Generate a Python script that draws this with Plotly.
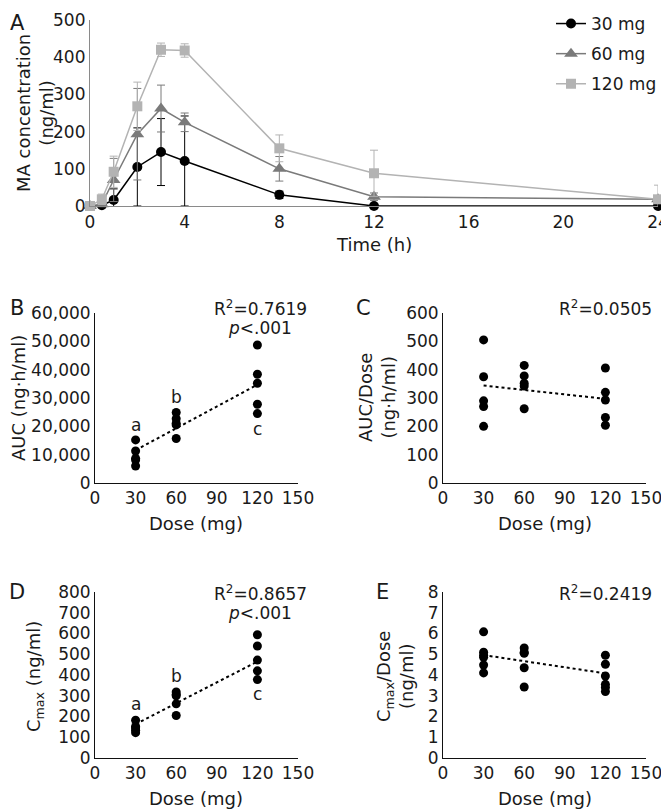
import plotly.graph_objects as go

# ---------------- Data ----------------
time_h = [0, 0.5, 1, 2, 3, 4, 8, 12, 24]
conc_30 = [0, 2, 16, 105, 145, 121, 30, 0, 0]
err_30 = [0, 2, 30, 105, 90, 121, 10, 0, 0]
conc_60 = [0, 5, 70, 193, 262, 225, 100, 25, 18]
err_60 = [0, 15, 58, 123, 63, 25, 33, 10, 5]
conc_120 = [0, 18, 92, 268, 420, 418, 155, 88, 18]
err_120 = [0, 14, 42, 65, 18, 18, 36, 62, 38]

dose_levels = [30, 60, 120]
auc = {30: [15200, 11300, 8700, 8100, 6000],
       60: [24900, 22700, 21100, 20500, 15700],
       120: [48700, 38400, 35200, 27800, 24500]}
auc_dose = {30: [505, 375, 290, 270, 200],
            60: [415, 378, 352, 342, 262],
            120: [406, 320, 293, 231, 204]}
cmax = {30: [182, 152, 146, 134, 122],
        60: [318, 306, 300, 261, 205],
        120: [594, 540, 472, 420, 378]}
cmax_dose = {30: [6.08, 5.1, 4.95, 4.85, 4.48, 4.1],
             60: [5.3, 5.1, 5.05, 4.35, 3.42],
             120: [4.95, 4.52, 3.95, 3.55, 3.4, 3.2]}

trend_x = [30, 120]
trend_auc = [11600, 34700]
trend_auc_dose = [344, 297]
trend_cmax = [163, 465]
trend_cmax_dose = [4.96, 4.08]

r2_labels = ["R<sup>2</sup>=0.7619", "R<sup>2</sup>=0.0505", "R<sup>2</sup>=0.8657", "R<sup>2</sup>=0.2419"]
sig_letters = ["a", "b", "c"]

# ---------------- Figure ----------------
W, H = 669, 811
OFF = 8  # page body offset
ML, MR, MT, MB = 40, 8, 8, 16
PW, PH = W - ML - MR, H - MT - MB
FONT = "DejaVu Sans"
TXT = "#1a1a1a"


def px(x):
    return (x - OFF - ML) / PW


def py(y):
    return 1 - (y - OFF - MT) / PH


fig = go.Figure()

series = [
    ("30 mg", conc_30, err_30, "#000000", "circle", 10),
    ("60 mg", conc_60, err_60, "#7a7a7a", "triangle-up", 12),
    ("120 mg", conc_120, err_120, "#b3b3b3", "square", 10),
]
for name, y, e, col, sym, sz in series:
    fig.add_trace(go.Scatter(
        x=time_h, y=y, name=name, mode="lines+markers", legendgroup=name,
        line=dict(color=col, width=1.5),
        marker=dict(color=col, symbol=sym, size=sz),
        error_y=dict(type="data", array=e, visible=True, color=col, thickness=1, width=4),
        cliponaxis=False, xaxis="x", yaxis="y",
    ))


def scatter_panel(data, trend, ax):
    xs, ys = [], []
    for d in dose_levels:
        xs += [d] * len(data[d])
        ys += data[d]
    fig.add_trace(go.Scatter(
        x=trend_x, y=trend, mode="lines", showlegend=False,
        line=dict(color="#000000", width=2, dash="dot"),
        xaxis="x" + ax, yaxis="y" + ax, hoverinfo="skip"))
    fig.add_trace(go.Scatter(
        x=xs, y=ys, mode="markers", showlegend=False,
        marker=dict(color="#000000", size=9),
        cliponaxis=False, xaxis="x" + ax, yaxis="y" + ax))


scatter_panel(auc, trend_auc, "2")
scatter_panel(auc_dose, trend_auc_dose, "3")
scatter_panel(cmax, trend_cmax, "4")
scatter_panel(cmax_dose, trend_cmax_dose, "5")

tickfont = dict(family=FONT, size=17, color=TXT)


def xax(dom, rng, dtick, anchor, lc, lw):
    return dict(domain=dom, range=rng, dtick=dtick, tick0=0, anchor=anchor,
                showline=True, linecolor=lc, linewidth=lw, showgrid=False,
                zeroline=False, ticks="", tickfont=tickfont, fixedrange=True,
                automargin=False)


def yax(dom, rng, dtick, anchor, lc, lw, fmt=None):
    d = dict(domain=dom, range=rng, dtick=dtick, tick0=0, anchor=anchor,
             showline=True, linecolor=lc, linewidth=lw, showgrid=False,
             zeroline=False, ticks="", tickfont=tickfont, fixedrange=True,
             automargin=False)
    if fmt:
        d["tickformat"] = fmt
    return d


A_LC = "#8a8a8a"
S_LC = "#111111"
dom_x_left = [px(95), px(298)]
dom_x_right = [px(443), px(646)]
dom_y_mid = [py(483), py(313)]
dom_y_bot = [py(758), py(592)]

fig.update_layout(
    width=W, height=H,
    margin=dict(l=ML, r=MR, t=MT, b=MB, autoexpand=False),
    paper_bgcolor="white", plot_bgcolor="white",
    font=dict(family=FONT, size=16, color=TXT),
    xaxis=xax([px(90), px(658)], [0, 24], 4, "y", A_LC, 1.2),
    yaxis=yax([py(206), py(20)], [0, 500], 100, "x", A_LC, 1.2),
    xaxis2=xax(dom_x_left, [0, 150], 30, "y2", S_LC, 1),
    yaxis2=yax(dom_y_mid, [0, 60000], 10000, "x2", S_LC, 1, ","),
    xaxis3=xax(dom_x_right, [0, 150], 30, "y3", S_LC, 1),
    yaxis3=yax(dom_y_mid, [0, 600], 100, "x3", S_LC, 1),
    xaxis4=xax(dom_x_left, [0, 150], 30, "y4", S_LC, 1),
    yaxis4=yax(dom_y_bot, [0, 800], 100, "x4", S_LC, 1),
    xaxis5=xax(dom_x_right, [0, 150], 30, "y5", S_LC, 1),
    yaxis5=yax(dom_y_bot, [0, 8], 1, "x5", S_LC, 1),
    legend=dict(x=px(551), y=py(6), xanchor="left", yanchor="top",
                bgcolor="rgba(0,0,0,0)", font=dict(family=FONT, size=17, color=TXT),
                itemwidth=30, tracegroupgap=5),
    showlegend=True,
)

anns = []


def paper_text(x, y, text, size=18, angle=0, xanchor="center"):
    anns.append(dict(xref="paper", yref="paper", x=px(x), y=py(y), text=text,
                     showarrow=False, textangle=angle, xanchor=xanchor, yanchor="middle",
                     font=dict(family=FONT, size=size, color=TXT)))


# panel letters
paper_text(17, 23, "A", 21)
paper_text(17, 308, "B", 21)
paper_text(363, 308, "C", 21)
paper_text(17, 592, "D", 21)
paper_text(383, 592, "E", 21)

# axis titles
paper_text(35, 113, "MA concentration<br>(ng/ml)", 18, -90)
paper_text(374, 245, "Time (h)", 18)
paper_text(18, 398, "AUC (ng·h/ml)", 18, -90)
paper_text(377, 398, "AUC/Dose<br>(ng·h/ml)", 18, -90)
paper_text(196, 523, "Dose (mg)", 18)
paper_text(545, 523, "Dose (mg)", 18)
paper_text(35, 677, "C<sub>max</sub> (ng/ml)", 18, -90)
paper_text(395, 677, "C<sub>max</sub>/Dose<br>(ng/ml)", 18, -90)
paper_text(196, 798, "Dose (mg)", 18)
paper_text(545, 798, "Dose (mg)", 18)

# R2 and p annotations
paper_text(260, 308, r2_labels[0], 17)
paper_text(260, 328, "<i>p</i>&lt;.001", 17)
paper_text(605, 308, r2_labels[1], 17)
paper_text(260, 593, r2_labels[2], 17)
paper_text(260, 613, "<i>p</i>&lt;.001", 17)
paper_text(605, 593, r2_labels[3], 17)

# significance letters (data coordinates)
for (letter, xv, yv) in zip(sig_letters, dose_levels, [20500, 30300, 19000]):
    anns.append(dict(xref="x2", yref="y2", x=xv, y=yv, text=letter, showarrow=False,
                     font=dict(family=FONT, size=17, color=TXT)))
for (letter, xv, yv) in zip(sig_letters, dose_levels, [261, 395, 309]):
    anns.append(dict(xref="x4", yref="y4", x=xv, y=yv, text=letter, showarrow=False,
                     font=dict(family=FONT, size=17, color=TXT)))

fig.update_layout(annotations=anns)

fig.write_html("out.html")
